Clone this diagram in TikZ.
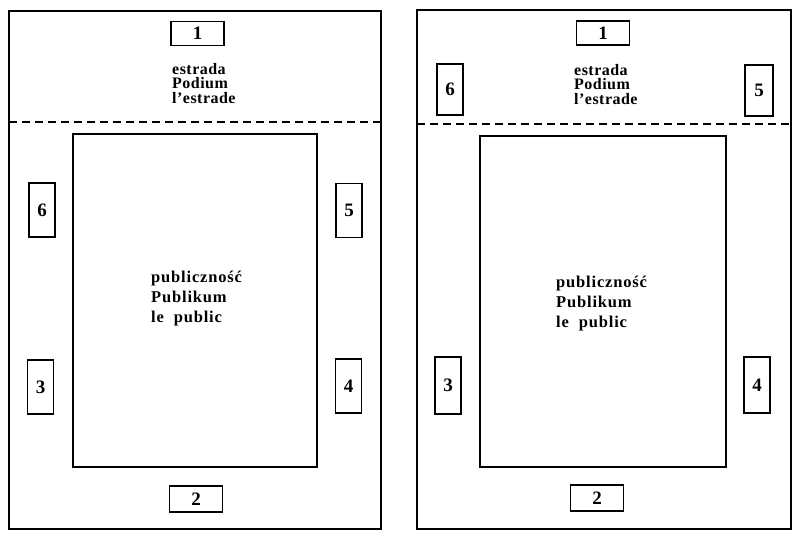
\documentclass[tikz,border=0pt]{standalone}
\usepackage{fontspec}
\setmainfont{Liberation Serif}
\newfontfamily\pubfont[LetterSpace=5]{Liberation Serif}
\newfontfamily\stagefont[LetterSpace=3]{Liberation Serif}
\begin{document}
\begin{tikzpicture}[x=1pt,y=-1pt,
  wall/.style={draw=black,line width=1.9pt},
  hall/.style={draw=black,line width=1.8pt},
  stagebound/.style={draw=black,line width=1.3pt,dash pattern=on 8pt off 5pt},
  hbox/.style={draw=black,line width=1.7pt,minimum width=53pt,minimum height=24pt,inner sep=0pt,font=\fontsize{19}{19}\selectfont\bfseries},
  vbox/.style={draw=black,line width=1.7pt,minimum width=26pt,minimum height=54pt,inner sep=0pt,font=\fontsize{19}{19}\selectfont\bfseries},
  stagetext/.style={anchor=north west,inner sep=0pt,align=left,font=\stagefont\fontsize{16}{14.5}\selectfont\bfseries},
  pubtext/.style={anchor=north west,inner sep=0pt,align=left,font=\pubfont\fontsize{16.5}{20}\selectfont\bfseries}]
\useasboundingbox (0,0) rectangle (800,539);
\fill[white] (0,0) rectangle (800,539);
% ---------- left plan ----------
\draw[wall] (9,11) rectangle (381,529);
\draw[stagebound] (9,122) -- (381,122);
\node[hall,minimum width=244pt,minimum height=333pt,inner sep=0pt] (Lhall) at (195,300.5) {};
\node[hbox] (L1) at (197.5,33.5) {1};
\node[stagetext] (Lstage) at (172,63) {estrada\\Podium\\l’estrade};
\node[vbox] (L6) at (42,210) {6};
\node[vbox] (L5) at (349,210.5) {5};
\node[pubtext] (Lpub) at (151,271) {publiczność\\Publikum\\le\ \ public};
\node[vbox] (L3) at (40.5,387) {3};
\node[vbox] (L4) at (348.5,386) {4};
\node[hbox,minimum height=26pt] (L2) at (196,499) {2};
% ---------- right plan ----------
\draw[wall] (417,10) rectangle (791,529);
\draw[stagebound] (417,124) -- (791,124);
\node[hall,minimum width=246pt,minimum height=331pt,inner sep=0pt] (Rhall) at (603,301.5) {};
\node[hbox] (R1) at (603,33) {1};
\node[stagetext] (Rstage) at (574,64) {estrada\\Podium\\l’estrade};
\node[vbox,minimum height=51pt] (R6) at (450,89.5) {6};
\node[vbox,minimum height=51pt,minimum width=28pt] (R5) at (759,90.5) {5};
\node[pubtext] (Rpub) at (556,276) {publiczność\\Publikum\\le\ \ public};
\node[vbox,minimum height=57pt] (R3) at (448,385.5) {3};
\node[vbox,minimum height=56pt] (R4) at (757,385) {4};
\node[hbox,minimum height=26pt] (R2) at (597,498) {2};
\end{tikzpicture}
\end{document}
